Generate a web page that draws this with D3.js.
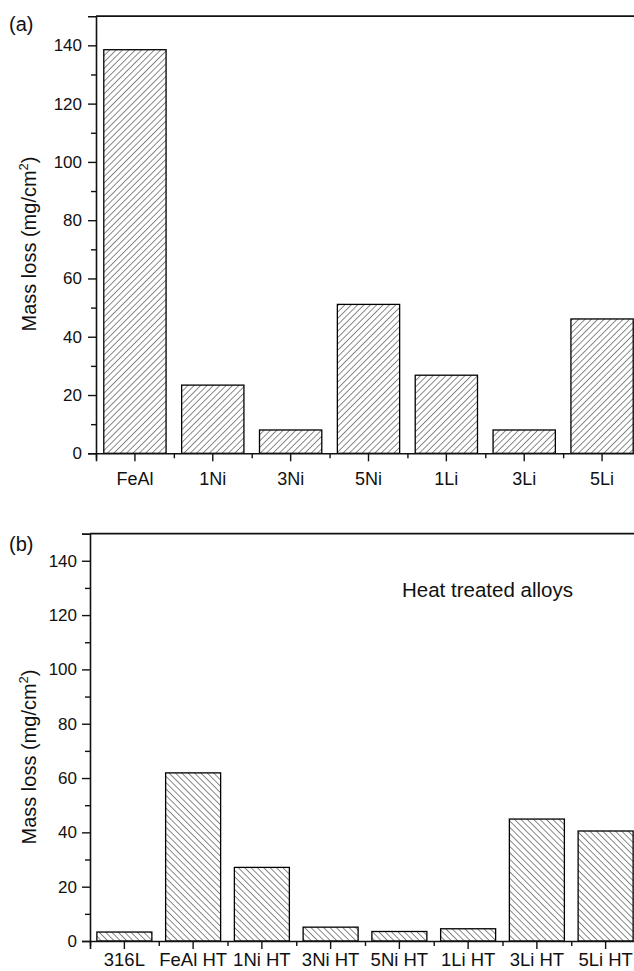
<!DOCTYPE html>
<html>
<head>
<meta charset="utf-8">
<script src="https://cdn.jsdelivr.net/npm/d3@7/dist/d3.min.js"></script>
<style>
  html, body { margin: 0; padding: 0; background: #fff; }
  svg { display: block; font-family: "Liberation Sans", Arial, Helvetica, sans-serif; }
</style>
</head>
<body>
<svg id="fig" width="634" height="971"></svg>
<script>
// As-cast alloys (panel a)
const castAlloys = ["FeAl", "1Ni", "3Ni", "5Ni", "1Li", "3Li", "5Li"];
const castMassLoss = [138.5, 23.4, 8.0, 51.1, 26.8, 8.0, 46.1];

// Heat treated alloys (panel b)
const htAlloys = ["316L", "FeAl HT", "1Ni HT", "3Ni HT", "5Ni HT", "1Li HT", "3Li HT", "5Li HT"];
const htMassLoss = [3.3, 61.9, 27.1, 5.1, 3.5, 4.5, 44.9, 40.5];

// Shared y axis ticks
const yMajorTicks = [0, 20, 40, 60, 80, 100, 120, 140];
const yMinorTicks = [10, 30, 50, 70, 90, 110, 130];
const yMax = 150;

const svg = d3.select("#fig");
const defs = svg.append("defs");

// diagonal line fill; angle 45 gives "/" and -45 gives "\"
function hatch(id, angle) {
  const p = defs.append("pattern")
    .attr("id", id)
    .attr("patternUnits", "userSpaceOnUse")
    .attr("width", 4.5)
    .attr("height", 4.5)
    .attr("patternTransform", `rotate(${angle})`);
  p.append("line")
    .attr("x1", 0).attr("y1", 0).attr("x2", 0).attr("y2", 4.5)
    .attr("stroke", "#2a2a2a").attr("stroke-width", 1.1);
}
hatch("hatchFwd", 45);
hatch("hatchBack", -45);

function panel(cfg) {
  const g = svg.append("g");
  const n = cfg.categories.length;
  const x = d3.scaleBand()
    .domain(cfg.categories)
    .range([cfg.left, cfg.right])
    .paddingInner(0.2)
    .paddingOuter(0.1);
  const y = d3.scaleLinear().domain([0, yMax]).range([cfg.bottom, cfg.top]);

  // bars
  g.append("g").selectAll("rect")
    .data(cfg.values)
    .join("rect")
    .attr("x", (d, i) => x(cfg.categories[i]))
    .attr("y", d => y(d))
    .attr("width", x.bandwidth())
    .attr("height", d => y(0) - y(d))
    .attr("fill", `url(#${cfg.pattern})`)
    .attr("stroke", "#000")
    .attr("stroke-width", 1.3);

  // top frame line
  g.append("line")
    .attr("x1", cfg.left).attr("x2", cfg.right)
    .attr("y1", y(yMax)).attr("y2", y(yMax))
    .attr("stroke", "#111").attr("stroke-width", 1.8);

  // y axis: major + minor ticks
  const yAxis = g.append("g")
    .attr("transform", `translate(${cfg.left},0)`)
    .call(d3.axisLeft(y).tickValues(yMajorTicks).tickSize(8).tickPadding(cfg.yPad));
  g.append("g")
    .attr("transform", `translate(${cfg.left},0)`)
    .call(d3.axisLeft(y).tickValues(yMinorTicks).tickSize(5).tickFormat(""))
    .call(a => a.select(".domain").remove());

  // x axis: labelled ticks at slot centres, short ticks at slot edges
  const xAxis = g.append("g")
    .attr("transform", `translate(0,${cfg.bottom})`)
    .call(d3.axisBottom(x).tickSize(8).tickPadding(cfg.xPad));
  const edge = d3.scaleLinear().domain([0, n]).range([cfg.left, cfg.right]);
  g.append("g")
    .attr("transform", `translate(0,${cfg.bottom})`)
    .call(d3.axisBottom(edge).tickValues(d3.range(n + 1)).tickSize(5).tickFormat(""))
    .call(a => a.select(".domain").remove());

  g.selectAll(".domain").attr("stroke", "#111").attr("stroke-width", 1.6);
  g.selectAll(".tick line").attr("stroke", "#111").attr("stroke-width", 1.4);
  yAxis.selectAll("text").attr("font-size", 17).attr("fill", "#111");
  xAxis.selectAll("text").attr("font-size", cfg.xFont).attr("fill", "#111");

  // y axis title
  const t = g.append("text")
    .attr("transform", `translate(${cfg.titleX},${cfg.titleY}) rotate(-90)`)
    .attr("text-anchor", "middle")
    .attr("font-size", 20)
    .attr("fill", "#111");
  t.append("tspan").text("Mass loss (mg/cm");
  t.append("tspan").text("2").attr("font-size", 13).attr("dy", -8);
  t.append("tspan").text(")").attr("dy", 8);

  // panel letter
  g.append("text")
    .attr("x", 9).attr("y", cfg.letterY)
    .attr("font-size", 20).attr("fill", "#111")
    .text(cfg.letter);

  return { g, x, y };
}

panel({
  categories: castAlloys, values: castMassLoss, pattern: "hatchFwd",
  left: 96, right: 641, top: 16.2, bottom: 453.3,
  yPad: 6, xPad: 11, xFont: 18,
  titleX: 36, titleY: 244, letter: "(a)", letterY: 31
});

const b = panel({
  categories: htAlloys, values: htMassLoss, pattern: "hatchBack",
  left: 90, right: 640, top: 533.6, bottom: 941,
  yPad: 5, xPad: 4, xFont: 18.5,
  titleX: 36, titleY: 757, letter: "(b)", letterY: 551
});

b.g.append("text")
  .attr("x", 402).attr("y", 597)
  .attr("font-size", 20.5).attr("fill", "#111")
  .text("Heat treated alloys");
</script>
</body>
</html>
